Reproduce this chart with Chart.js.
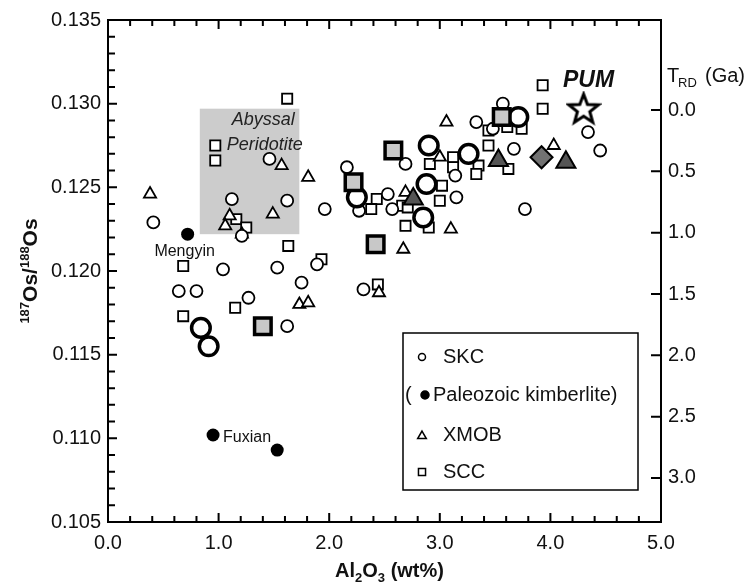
<!DOCTYPE html>
<html>
<head>
<meta charset="utf-8">
<script src="https://cdn.jsdelivr.net/npm/chart.js@4.4.1/dist/chart.umd.min.js"></script>
<style>
  html, body { margin: 0; padding: 0; background: #fff; }
  #wrap { width: 752px; height: 584px; }
</style>
</head>
<body>
<div id="wrap"><canvas id="chart" width="752" height="584"></canvas></div>
<script>
// Al2O3 (wt%) vs 187Os/188Os, pairs of [x, y]
const skcSmall = [
  [1.12, 0.1243], [1.46, 0.1267], [1.62, 0.1242], [3.33, 0.1289], [2.69, 0.1264],
  [3.14, 0.1257], [2.16, 0.1262], [1.96, 0.1237], [2.53, 0.1246], [3.15, 0.1244],
  [2.27, 0.1236], [2.57, 0.1237], [3.77, 0.1237], [4.34, 0.1283], [4.45, 0.1272],
  [3.57, 0.1300], [3.48, 0.1285], [3.67, 0.1273], [0.41, 0.1229], [1.21, 0.1221],
  [1.04, 0.1201], [1.53, 0.1202], [0.64, 0.1188], [0.80, 0.1188], [1.27, 0.1184],
  [1.89, 0.1204], [1.75, 0.1193], [2.31, 0.1189], [1.62, 0.1167]
];
const skcLarge = [
  [2.90, 0.1275], [3.26, 0.1270], [2.25, 0.1244], [2.88, 0.1252],
  [2.85, 0.1232], [3.71, 0.1292], [0.84, 0.1166], [0.91, 0.1155]
];
const kimberlite = [[0.72, 0.1222], [0.95, 0.1102], [1.53, 0.1093]];
const xmobSmall = [
  [0.38, 0.1246], [1.57, 0.1263], [1.81, 0.1256], [3.06, 0.1289], [2.69, 0.1247],
  [3.10, 0.1225], [2.67, 0.1213], [1.73, 0.1180], [1.81, 0.1181], [2.45, 0.1187],
  [1.10, 0.1233], [1.06, 0.1227], [1.49, 0.1234], [1.21, 0.1222], [4.03, 0.1275],
  [3.00, 0.1268]
];
const xmobLarge = [[2.76, 0.1243], [3.53, 0.1266], [4.14, 0.1265]];
const sccSmall = [
  [0.97, 0.1275], [0.97, 0.1266], [1.62, 0.1303], [3.12, 0.1268], [2.91, 0.1264],
  [3.12, 0.1262], [2.43, 0.1243], [3.02, 0.1251], [3.00, 0.1242], [2.66, 0.1239],
  [2.38, 0.1237], [2.71, 0.1238], [2.69, 0.1227], [2.90, 0.1226], [1.63, 0.1215],
  [1.93, 0.1207], [2.44, 0.1192], [1.16, 0.1231], [1.25, 0.1226], [0.68, 0.1203],
  [1.15, 0.1178], [0.68, 0.1173], [3.93, 0.1311], [3.93, 0.1297], [3.74, 0.1285],
  [3.44, 0.1284], [3.61, 0.1286], [3.44, 0.1275], [3.35, 0.1263], [3.62, 0.1261],
  [3.33, 0.1258]
];
const sccLarge = [[2.58, 0.1272], [2.22, 0.1253], [2.42, 0.1216], [1.40, 0.1167], [3.56, 0.1292]];
const diamondPts = [[3.92, 0.1268]];
const pumPts = [[4.30, 0.1297]];
const abyssalX = [0.83, 1.73];
const abyssalY = [0.1222, 0.1297];

const xTicks = [0, 1, 2, 3, 4, 5];
const osTicks = [0.105, 0.110, 0.115, 0.120, 0.125, 0.130, 0.135];
const trdTicks = [0, 0.5, 1.0, 1.5, 2.0, 2.5, 3.0];

const FONT = "'Liberation Sans', Arial, Helvetica, sans-serif";
Chart.defaults.font.family = FONT;
Chart.defaults.color = '#111';

const pts = arr => arr.map(p => ({ x: p[0], y: p[1] }));

// open five-pointed star for PUM
function starCanvas() {
  const c = document.createElement('canvas');
  c.width = 36; c.height = 36;
  const g = c.getContext('2d');
  g.beginPath();
  for (let i = 0; i < 10; i++) {
    const r = i % 2 === 0 ? 15.5 : 6.5;
    const a = -Math.PI / 2 + i * Math.PI / 5;
    const px = 18 + r * Math.cos(a), py = 19 + r * Math.sin(a);
    if (i === 0) g.moveTo(px, py); else g.lineTo(px, py);
  }
  g.closePath();
  g.fillStyle = '#fff';
  g.fill();
  g.lineWidth = 3;
  g.lineJoin = 'miter';
  g.strokeStyle = '#000';
  g.stroke();
  return c;
}

// draw text made of pieces with different sizes / offsets
function richText(ctx, parts, x, y, weight) {
  let w = 0;
  parts.forEach(p => {
    ctx.font = weight + ' ' + p.size + 'px ' + FONT;
    p.w = ctx.measureText(p.t).width;
    w += p.w;
  });
  let cx = x - w / 2;
  ctx.textAlign = 'left';
  ctx.textBaseline = 'alphabetic';
  parts.forEach(p => {
    ctx.font = weight + ' ' + p.size + 'px ' + FONT;
    ctx.fillText(p.t, cx, y + (p.dy || 0));
    cx += p.w;
  });
}

const framePlugin = {
  id: 'frame',
  beforeDatasetsDraw(chart) {
    const { ctx, scales: { x, y } } = chart;
    const x0 = x.getPixelForValue(abyssalX[0]), x1 = x.getPixelForValue(abyssalX[1]);
    const y0 = y.getPixelForValue(abyssalY[1]), y1 = y.getPixelForValue(abyssalY[0]);
    ctx.save();
    ctx.fillStyle = '#cccccc';
    ctx.fillRect(x0, y0, x1 - x0, y1 - y0);
    ctx.fillStyle = '#222';
    ctx.font = 'italic 18px ' + FONT;
    ctx.textBaseline = 'middle';
    ctx.textAlign = 'left';
    ctx.fillText('Abyssal', x0 + 32, y0 + 11);
    ctx.fillText('Peridotite', x0 + 27, y0 + 36);
    ctx.restore();
  },
  afterDraw(chart) {
    const { ctx, chartArea: a, scales: { x, y, yR } } = chart;
    ctx.save();
    ctx.strokeStyle = '#000';
    ctx.lineWidth = 2;
    ctx.strokeRect(a.left, a.top, a.right - a.left, a.bottom - a.top);

    ctx.beginPath();
    for (let i = 0; i <= 25; i++) {
      const px = x.getPixelForValue(i / 5);
      const len = i % 5 === 0 ? 9 : 6;
      ctx.moveTo(px, a.bottom); ctx.lineTo(px, a.bottom - len);
      ctx.moveTo(px, a.top); ctx.lineTo(px, a.top + len);
    }
    for (let i = 0; i <= 30; i++) {
      const py = y.getPixelForValue(0.105 + i * 0.001);
      const len = i % 5 === 0 ? 9 : 7;
      ctx.moveTo(a.left, py); ctx.lineTo(a.left + len, py);
    }
    trdTicks.forEach(t => {
      const py = yR.getPixelForValue(t);
      ctx.moveTo(a.right, py); ctx.lineTo(a.right - 10, py);
    });
    ctx.stroke();

    ctx.fillStyle = '#111';
    // axis titles
    richText(ctx, [
      { t: 'Al', size: 20 }, { t: '2', size: 13, dy: 5 },
      { t: 'O', size: 20 }, { t: '3', size: 13, dy: 5 }, { t: ' (wt%)', size: 20 }
    ], (a.left + a.right) / 2 + 5, 577, 'bold');

    ctx.save();
    ctx.translate(37, (a.top + a.bottom) / 2);
    ctx.rotate(-Math.PI / 2);
    richText(ctx, [
      { t: '187', size: 13, dy: -8 }, { t: 'Os/', size: 21 },
      { t: '188', size: 13, dy: -8 }, { t: 'Os', size: 21 }
    ], 0, 0, 'bold');
    ctx.restore();

    // right axis title
    ctx.textAlign = 'left';
    ctx.textBaseline = 'alphabetic';
    ctx.font = '20px ' + FONT;
    ctx.fillText('T', 667, 82);
    ctx.font = '13px ' + FONT;
    ctx.fillText('RD', 678, 87);
    ctx.font = '20px ' + FONT;
    ctx.fillText('(Ga)', 705, 82);

    // point labels
    const star = pumPts[0];
    ctx.font = 'italic bold 23px ' + FONT;
    ctx.textAlign = 'center';
    ctx.textBaseline = 'middle';
    ctx.fillText('PUM', x.getPixelForValue(star[0]) + 5, y.getPixelForValue(star[1]) - 28);

    ctx.font = '16px ' + FONT;
    ctx.fillText('Mengyin', x.getPixelForValue(kimberlite[0][0]) - 3, y.getPixelForValue(kimberlite[0][1]) + 17);
    ctx.textAlign = 'left';
    ctx.fillText('Fuxian', x.getPixelForValue(kimberlite[1][0]) + 10, y.getPixelForValue(kimberlite[1][1]) + 3);

    // legend box
    ctx.lineWidth = 1.5;
    ctx.strokeRect(403, 333, 235, 157);
    const mk = (style, r, fill, lx, ly) => {
      ctx.fillStyle = fill;
      ctx.strokeStyle = '#000';
      ctx.lineWidth = 1.5;
      Chart.helpers.drawPoint(ctx, { pointStyle: style, radius: r, rotation: 0, borderWidth: 1.5 }, lx, ly);
    };
    mk('circle', 3.5, '#fff', 422, 357);
    mk('circle', 4, '#000', 425, 395);
    mk('triangle', 5, '#fff', 422, 436);
    mk('rect', 5, '#fff', 422, 472);
    ctx.fillStyle = '#111';
    ctx.font = '20px ' + FONT;
    ctx.textAlign = 'left';
    ctx.textBaseline = 'middle';
    ctx.fillText('SKC', 443, 357);
    ctx.fillText('(', 405, 395);
    ctx.fillText('Paleozoic kimberlite)', 433, 395);
    ctx.fillText('XMOB', 443, 435);
    ctx.fillText('SCC', 443, 472);
    ctx.restore();
  }
};

const open = { backgroundColor: '#fff', borderColor: '#000' };

new Chart(document.getElementById('chart'), {
  type: 'scatter',
  data: {
    datasets: [
      { label: 'PUM', data: pts(pumPts), pointStyle: starCanvas(), pointRadius: 15 },
      { label: 'SCC bold', data: pts(sccLarge), pointStyle: 'rect', pointRadius: 11.7, borderWidth: 3.5, backgroundColor: '#c8c8c8', borderColor: '#000' },
      { label: 'SKC bold', data: pts(skcLarge), pointStyle: 'circle', pointRadius: 9.3, borderWidth: 3.5, ...open },
      { label: 'XMOB bold', data: pts(xmobLarge), pointStyle: 'triangle', pointRadius: 11, borderWidth: 2, backgroundColor: '#555', borderColor: '#000' },
      { label: 'diamond', data: pts(diamondPts), pointStyle: 'rectRot', pointRadius: 11, borderWidth: 2, backgroundColor: '#727272', borderColor: '#000' },
      { label: 'Paleozoic kimberlite', data: pts(kimberlite), pointStyle: 'circle', pointRadius: 6.5, borderWidth: 0, backgroundColor: '#000', borderColor: '#000' },
      { label: 'SKC', data: pts(skcSmall), pointStyle: 'circle', pointRadius: 6, borderWidth: 1.8, ...open },
      { label: 'XMOB', data: pts(xmobSmall), pointStyle: 'triangle', pointRadius: 7, borderWidth: 1.8, ...open },
      { label: 'SCC', data: pts(sccSmall), pointStyle: 'rect', pointRadius: 7.2, borderWidth: 1.8, ...open }
    ]
  },
  options: {
    responsive: false,
    animation: false,
    events: [],
    layout: { padding: { top: 20, left: 0, right: 0, bottom: 0 } },
    plugins: { legend: { display: false }, tooltip: { enabled: false } },
    scales: {
      x: {
        type: 'linear', position: 'bottom', min: 0, max: 5,
        afterBuildTicks: s => { s.ticks = xTicks.map(v => ({ value: v })); },
        ticks: { callback: v => v.toFixed(1), font: { size: 20 }, color: '#111', padding: 9, maxRotation: 0, autoSkip: false },
        grid: { display: false, drawTicks: false },
        border: { display: false },
        afterFit: s => { s.height = 62; }
      },
      y: {
        type: 'linear', position: 'left', min: 0.105, max: 0.135,
        afterBuildTicks: s => { s.ticks = osTicks.map(v => ({ value: v })); },
        ticks: { callback: v => v.toFixed(3), font: { size: 20 }, color: '#111', padding: 7 },
        grid: { display: false, drawTicks: false },
        border: { display: false },
        afterFit: s => { s.width = 108; }
      },
      yR: {
        type: 'linear', position: 'right', reverse: true, min: -0.734, max: 3.359,
        afterBuildTicks: s => { s.ticks = trdTicks.map(v => ({ value: v })); },
        ticks: { callback: v => v.toFixed(1), font: { size: 20 }, color: '#111', padding: 7 },
        grid: { display: false, drawTicks: false },
        border: { display: false },
        afterFit: s => { s.width = 91; }
      }
    }
  },
  plugins: [framePlugin]
});
</script>
</body>
</html>
